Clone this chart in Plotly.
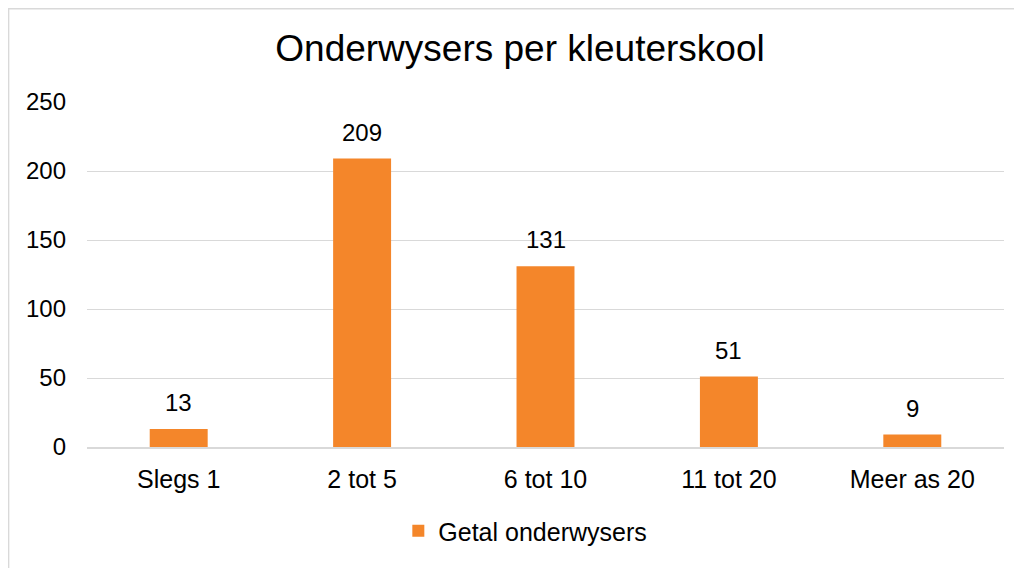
import plotly.graph_objects as go

categories = ["Slegs 1", "2 tot 5", "6 tot 10", "11 tot 20", "Meer as 20"]
values = [13, 209, 131, 51, 9]
series_name = "Getal onderwysers"
title_text = "Onderwysers per kleuterskool"
y_ticks = [0, 50, 100, 150, 200, 250]

FONT = "Arial, Liberation Sans, sans-serif"
ORANGE = "#F4862A"

# The page body adds an 8px margin, so the figure is sized to fit the window.
W, H = 1014, 560

fig = go.Figure()
fig.add_trace(go.Bar(x=categories, y=values, name=series_name,
                     marker=dict(color=ORANGE, line=dict(width=0))))

for c, v in zip(categories, values):
    fig.add_annotation(x=c, y=v, text=str(v), showarrow=False,
                       yanchor="bottom", yshift=11,
                       font=dict(family=FONT, size=24, color="#000000"))

fig.add_shape(type="rect", xref="paper", yref="paper",
              x0=-0.0855, x1=1.05, y0=-0.40, y1=1.2705,
              line=dict(color="#d9d9d9", width=1.5), layer="below")

fig.update_layout(
    width=W, height=H,
    margin=dict(l=79, r=18, t=94, b=121),
    paper_bgcolor="white", plot_bgcolor="white",
    bargap=0.684,
    font=dict(family=FONT, size=24, color="#000000"),
    title=dict(text=title_text, x=512 / W, xanchor="center", xref="container",
               y=1 - 40 / H, yanchor="middle",
               font=dict(family=FONT, size=37, color="#000000")),
    showlegend=True,
    legend=dict(orientation="h", x=0.478, xanchor="center", y=-0.2435,
                yanchor="middle", font=dict(family=FONT, size=25),
                itemwidth=30),
    xaxis=dict(showgrid=False, showline=True, linecolor="#d9d9d9",
               linewidth=1.5, ticks="", tickfont=dict(size=25),
               ticklabelstandoff=9),
    yaxis=dict(range=[0, 250], tickvals=y_ticks, showgrid=True,
               gridcolor="#d9d9d9", gridwidth=1, zeroline=False,
               showline=False, ticks="", tickfont=dict(size=24),
               ticklabelstandoff=20),
)

fig.write_html("out.html")
